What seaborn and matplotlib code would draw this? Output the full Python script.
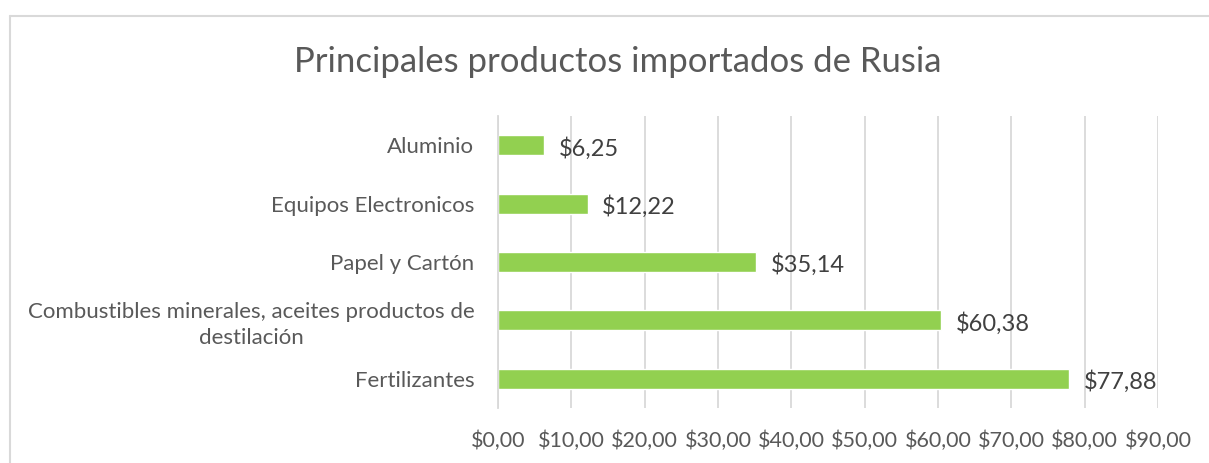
import matplotlib
matplotlib.use("Agg")
import matplotlib.pyplot as plt
import seaborn as sns
import pandas as pd
from matplotlib.lines import Line2D
from matplotlib.ticker import FuncFormatter

# Data
categories = ["Aluminio", "Equipos Electronicos", "Papel y Cartón",
              "Combustibles minerales, aceites productos de\ndestilación", "Fertilizantes"]
values = [6.25, 12.22, 35.14, 60.38, 77.88]
x_ticks = [0, 10, 20, 30, 40, 50, 60, 70, 80, 90]

df = pd.DataFrame({"producto": categories, "valor": values})

sns.set_style("white")
plt.rcParams["font.family"] = ["Lato", "DejaVu Sans"]

def money(v):
    return "$" + f"{v:,.2f}".replace(",", "X").replace(".", ",").replace("X", ".")

fig = plt.figure(figsize=(12.09, 4.63), dpi=100)
ax = fig.add_axes([498 / 1209, 1 - 408 / 463, 660 / 1209, 292 / 463])

sns.barplot(data=df, x="valor", y="producto", orient="h", color="#92D050",
            width=0.34, saturation=1, ax=ax)

ax.set_xlim(0, 90)
ax.set_ylim(4.5, -0.5)
ax.set_xticks(x_ticks)
ax.xaxis.set_major_formatter(FuncFormatter(lambda v, p: money(v)))
ax.grid(axis="x", color="#D9D9D9", linewidth=1.3)
ax.set_axisbelow(True)
for s in ["top", "right", "bottom"]:
    ax.spines[s].set_visible(False)
ax.spines["left"].set_color("#D9D9D9")
ax.spines["left"].set_linewidth(1.3)
ax.set_xlabel("")
ax.set_ylabel("")
ax.tick_params(axis="x", length=0, pad=16, labelsize=15.5, labelcolor="#595959")
ax.tick_params(axis="y", length=0, pad=17, labelsize=16, labelcolor="#595959")
for lbl in ax.get_yticklabels():
    lbl.set_multialignment("center")
    lbl.set_linespacing(1.35)

for i, v in enumerate(values):
    ax.text(v + 2.0, i + 0.05, money(v), va="center", ha="left", fontsize=17, color="#404040")

fig.text(618 / 1209, 1 - 62 / 463, "Principales productos importados de Rusia",
         ha="center", va="center", fontsize=25, color="#595959")

# chart border
fig.add_artist(Line2D([10 / 1209, 1], [1 - 16 / 463, 1 - 16 / 463], color="#D9D9D9", linewidth=1.5))
fig.add_artist(Line2D([10 / 1209, 10 / 1209], [0, 1 - 16 / 463], color="#D9D9D9", linewidth=1.5))

fig.savefig("out.png", dpi=100)
